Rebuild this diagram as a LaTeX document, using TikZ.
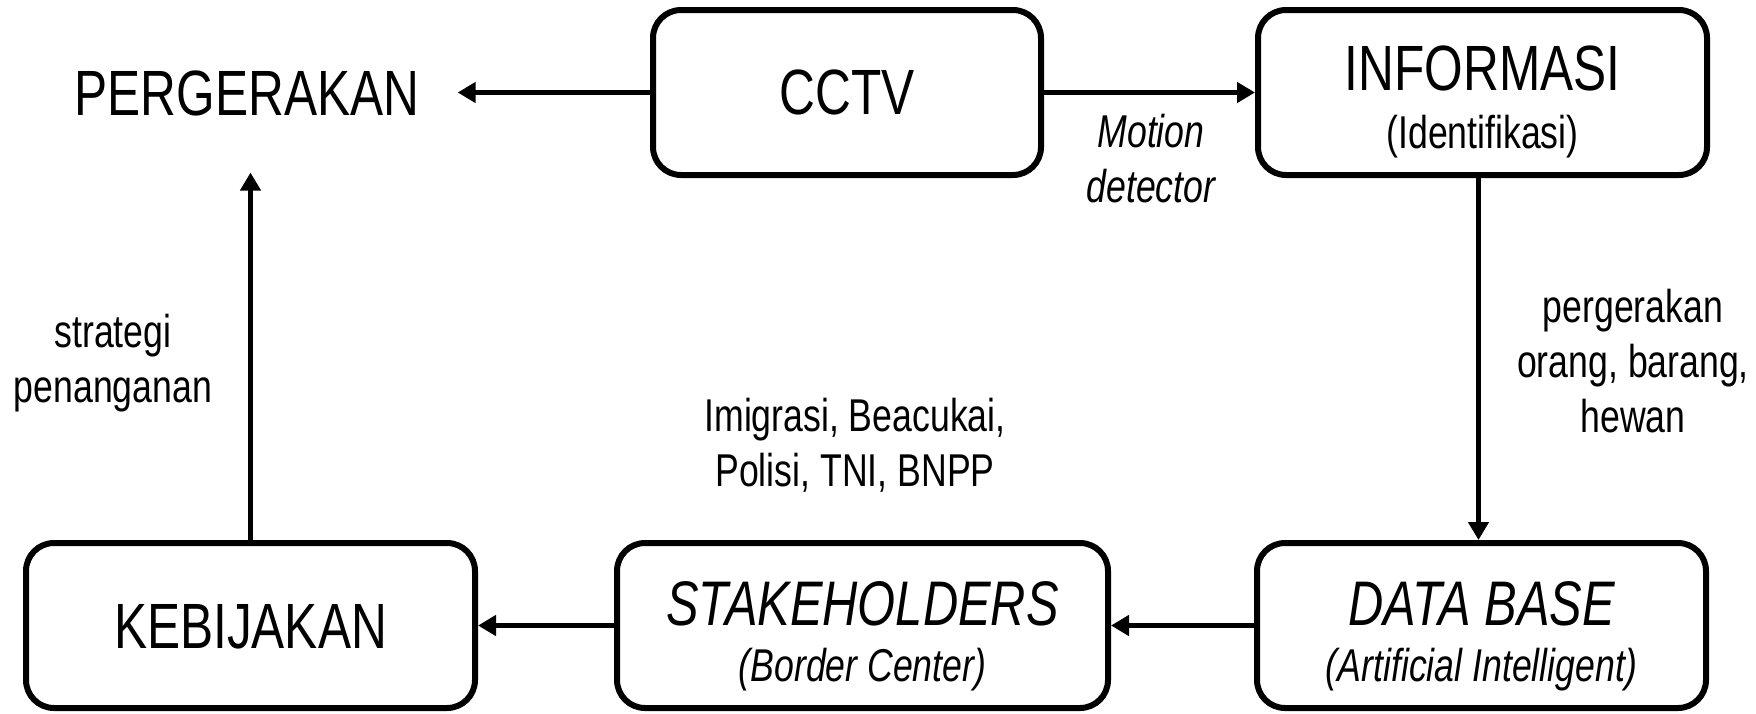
\documentclass[tikz,border=0pt]{standalone}
\usepackage{fontspec}
\setmainfont{Liberation Sans}[FakeStretch=0.775]
\usetikzlibrary{arrows.meta}
\newcommand\fBig{\fontsize{32}{29}\selectfont}
\newcommand\fMid{\fontsize{31.5}{28}\selectfont}
\tikzset{
  box/.style={draw, line width=3pt, rounded corners=14pt, fill=white,
    minimum height=82.5pt, inner sep=0pt, align=center},
  arr/.style={line width=2.8pt, -{Triangle[length=9pt,width=10pt]}},
  lbl/.style={align=center, inner sep=0pt, font=\fontsize{23}{27.5}\selectfont}
}
\begin{document}
\begin{tikzpicture}[x=0.5pt,y=-0.5pt]
\useasboundingbox (0,0) rectangle (1756,713);
% boxes
\node[box, minimum width=194pt, font=\fBig] (cctv) at (847,92.5) {CCTV};
\node[box, minimum width=224.5pt, font=\fontsize{23}{29}\selectfont,
      text height=56.1pt, text depth=0.6pt] (inf) at (1482.5,92.5)
      {{\fBig INFORMASI}\\(Identifikasi)};
\node[box, minimum width=224.5pt, font=\fBig,
      text height=24.4pt, text depth=1.5pt] (keb) at (250.5,625.5) {KEBIJAKAN};
\node[box, minimum width=245.5pt, font=\fontsize{23}{28}\selectfont\itshape,
      text height=56.4pt, text depth=-1.1pt] (stk) at (862.5,625.5)
      {{\fMid STAKEHOLDERS}\\(Border Center)};
\node[box, minimum width=224.5pt, font=\fontsize{23}{28}\selectfont\itshape,
      text height=56.4pt, text depth=-1.1pt] (db) at (1481.5,625.5)
      {{\fMid DATA BASE}\\(Artificial Intelligent)};
% free text
\node[font=\fBig, inner xsep=19pt, inner ysep=28pt] (perg) at (247,93.5) {PERGERAKAN};
\node[lbl, font=\fontsize{23}{27.5}\selectfont\itshape] (md) at (1151,159) {Motion\\detector};
\node[lbl] (pg) at (1633,361) {pergerakan\\orang, barang,\\hewan};
\node[lbl] (sp) at (113,363) {strategi\\penanganan};
\node[lbl] (im) at (855,445) {Imigrasi, Beacukai,\\Polisi, TNI, BNPP};
% connectors
\draw[arr] (cctv.west) -- (cctv.west -| perg.east);
\draw[arr] (cctv.east) -- (inf.west);
\draw[arr] ([xshift=-2pt]inf.south) -- ([xshift=-2pt]inf.south |- db.north);
\draw[arr] (db.west) -- (stk.east);
\draw[arr] (stk.west) -- (keb.east);
\draw[arr] (keb.north) -- (keb.north |- perg.south);
\end{tikzpicture}
\end{document}
